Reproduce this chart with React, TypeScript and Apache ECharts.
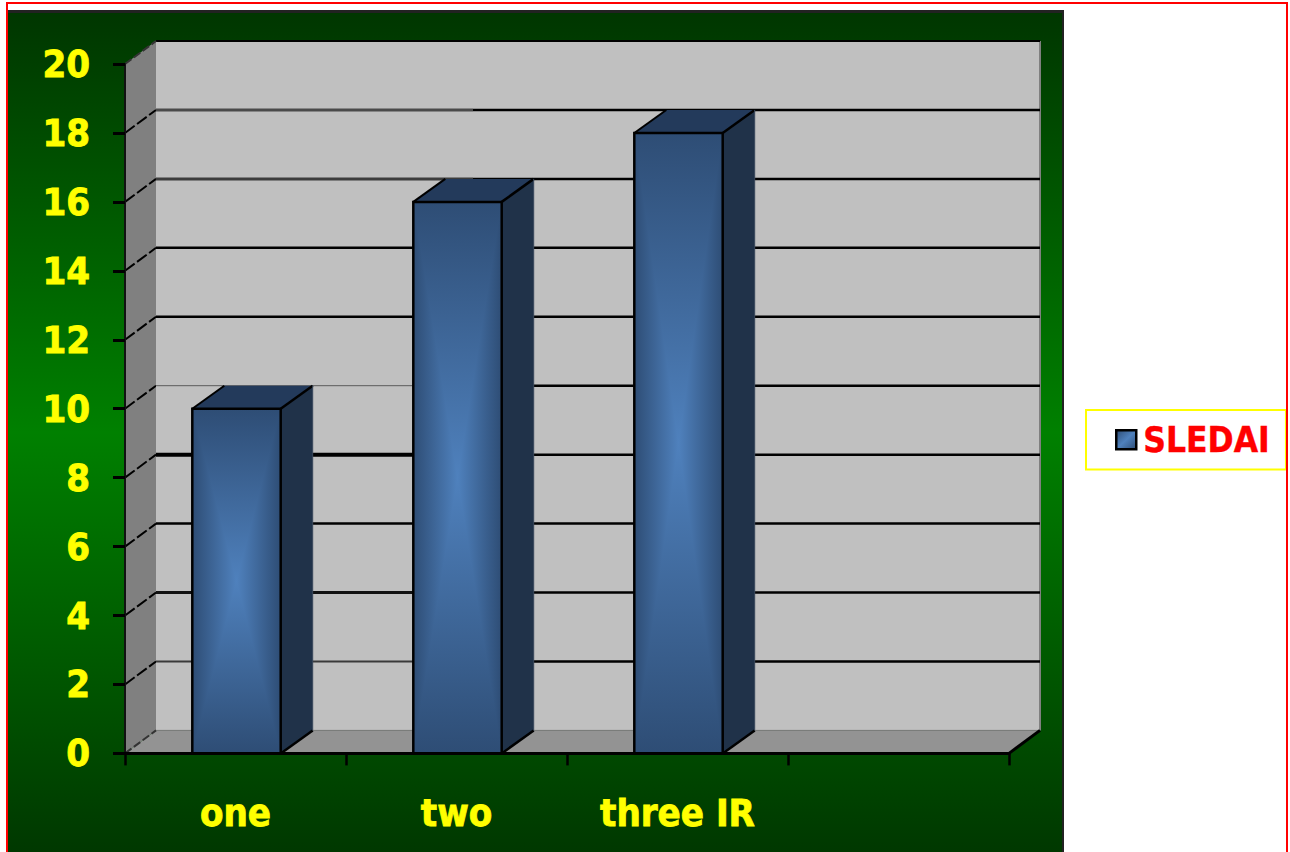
import React, { useEffect, useRef } from "react";
import * as echarts from "echarts";

const categories = ["one", "two", "three IR", ""];
const sledaiValues = [10, 16, 18];
const yMax = 20;
const yStep = 2;
const gridValues = [2, 4, 6, 8, 10, 12, 14, 16, 18];

const FONT = '"DejaVu Sans Condensed", "DejaVu Sans", Tahoma, sans-serif';
const DEPTH_X = 31;
const DEPTH_Y = 23;
const BAR_DEPTH_X = 32;
const BAR_RATIO = 0.4;
const BAR_SHIFT = 1;

// Heavier or lighter strokes on the left run of some wall lines, up to `span` px past the wall corner.
const wallLineRuns: Record<number, { color: string; width: number; span: number }> = {
  18: { color: "#4a4a4a", width: 3, span: 317 },
  16: { color: "#3c3c3c", width: 3, span: 317 },
  10: { color: "#5a5a5a", width: 1, span: 258 },
  8: { color: "#000000", width: 4, span: 258 },
  4: { color: "#111111", width: 3, span: 258 },
  2: { color: "#3a3a3a", width: 2, span: 258 },
};

const grad = (x2: number, y2: number, stops: [number, string][]) =>
  new echarts.graphic.LinearGradient(0, 0, x2, y2, stops.map(([offset, color]) => ({ offset, color })));

const EDGE = "#2e4d75";
const CENTRE = "#4f81bd";

// Back wall, side wall and floor of the box.
function renderWalls(params: any, api: any) {
  const cs = params.coordSys;
  const left = cs.x;
  const right = cs.x + cs.width;
  const y0 = api.coord([0, 0])[1];
  const yTop = api.coord([0, yMax])[1];
  const backLeft = left + DEPTH_X;
  const backRight = right + DEPTH_X;
  const backBottom = y0 - DEPTH_Y;
  const backTop = yTop - DEPTH_Y;
  return {
    type: "group",
    children: [
      { type: "polygon", shape: { points: [[backLeft, backTop], [backRight, backTop], [backRight, backBottom], [backLeft, backBottom]] }, style: { fill: "#c0c0c0" } },
      { type: "polygon", shape: { points: [[left, y0], [backLeft, backBottom], [backLeft, backTop], [left, yTop]] }, style: { fill: "#808080" } },
      { type: "polygon", shape: { points: [[left, y0], [right, y0], [backRight, backBottom], [backLeft, backBottom]] }, style: { fill: "#939393" } },
      { type: "line", shape: { x1: backLeft, y1: backBottom, x2: backRight, y2: backBottom }, style: { stroke: "#7a7a7a", lineWidth: 1 } },
      { type: "line", shape: { x1: backRight, y1: backTop, x2: backRight, y2: backBottom }, style: { stroke: "#808080", lineWidth: 2 } },
      { type: "line", shape: { x1: backLeft, y1: backTop, x2: backRight, y2: backTop }, style: { stroke: "#000", lineWidth: 2 } },
      { type: "line", shape: { x1: right, y1: y0, x2: backRight, y2: backBottom }, style: { stroke: "#000", lineWidth: 3 } },
      { type: "line", shape: { x1: left, y1: yTop, x2: backLeft, y2: backTop }, style: { stroke: "#333", lineWidth: 2, lineDash: [8, 3] } },
      { type: "line", shape: { x1: left, y1: y0, x2: backLeft, y2: backBottom }, style: { stroke: "#333", lineWidth: 2, lineDash: [8, 3] } },
    ],
  };
}

// One horizontal wall line and its slanted continuation on the side wall.
function renderGridLine(params: any, api: any) {
  const cs = params.coordSys;
  const left = cs.x;
  const right = cs.x + cs.width;
  const v = api.value(0);
  const y = api.coord([0, v])[1];
  const run = wallLineRuns[v];
  const children: any[] = [
    { type: "line", shape: { x1: left + DEPTH_X, y1: y - DEPTH_Y, x2: right + DEPTH_X, y2: y - DEPTH_Y }, style: { stroke: "#000", lineWidth: 2.5 } },
    { type: "line", shape: { x1: left, y1: y, x2: left + DEPTH_X, y2: y - DEPTH_Y }, style: { stroke: "#000", lineWidth: 2, lineDash: [12, 3] } },
  ];
  if (run) {
    children.push({
      type: "rect",
      shape: { x: left + DEPTH_X, y: y - DEPTH_Y - 2, width: run.span, height: 4 },
      style: { fill: "#c0c0c0" },
    });
    children.push({
      type: "line",
      shape: { x1: left + DEPTH_X, y1: y - DEPTH_Y, x2: left + DEPTH_X + run.span, y2: y - DEPTH_Y },
      style: { stroke: run.color, lineWidth: run.width },
    });
  }
  return { type: "group", children };
}

// A box bar: the front face shades from its rim towards a bright centre.
function renderBar(_params: any, api: any) {
  const [bandCentre, yTop] = api.coord([api.value(0), api.value(1)]);
  const y0 = api.coord([api.value(0), 0])[1];
  const w = api.size([1, 0])[0] * BAR_RATIO;
  const cx = bandCentre + BAR_SHIFT;
  const x0 = cx - w / 2;
  const x1 = cx + w / 2;
  const cy = (yTop + y0) / 2;
  const dx = BAR_DEPTH_X;
  const dy = DEPTH_Y;
  const vertical = grad(0, 1, [[0, EDGE], [0.5, CENTRE], [1, EDGE]]);
  const fromLeft = grad(1, 0, [[0, EDGE], [1, CENTRE]]);
  const fromRight = grad(1, 0, [[0, CENTRE], [1, EDGE]]);
  return {
    type: "group",
    children: [
      { type: "polygon", shape: { points: [[x0, yTop], [x1, yTop], [x1 + dx, yTop - dy], [x0 + dx, yTop - dy]] }, style: { fill: "#233a5b" } },
      { type: "polygon", shape: { points: [[x1, yTop], [x1 + dx, yTop - dy], [x1 + dx, y0 - dy], [x1, y0]] }, style: { fill: "#203249" } },
      { type: "rect", shape: { x: x0, y: yTop, width: w, height: y0 - yTop }, style: { fill: vertical } },
      { type: "polygon", shape: { points: [[x0, yTop], [cx, cy], [x0, y0]] }, style: { fill: fromLeft } },
      { type: "polygon", shape: { points: [[x1, yTop], [cx, cy], [x1, y0]] }, style: { fill: fromRight } },
      { type: "rect", shape: { x: x0, y: yTop, width: w, height: y0 - yTop }, style: { fill: "none", stroke: "#000", lineWidth: 2.5 } },
      { type: "line", shape: { x1: x0, y1: yTop, x2: x0 + dx, y2: yTop - dy }, style: { stroke: "#000", lineWidth: 2 } },
      { type: "line", shape: { x1: x1, y1: yTop, x2: x1 + dx, y2: yTop - dy }, style: { stroke: "#000", lineWidth: 2.5 } },
      { type: "line", shape: { x1: x1, y1: y0, x2: x1 + dx, y2: y0 - dy }, style: { stroke: "#000", lineWidth: 2.5 } },
      { type: "line", shape: { x1: x1 + dx, y1: yTop - dy, x2: x1 + dx, y2: y0 - dy }, style: { stroke: "#39485c", lineWidth: 1 } },
    ],
  };
}

const labelStyle = {
  color: "#ffff00",
  fontFamily: FONT,
  fontWeight: "bold",
  fontSize: 38,
  textBorderColor: "#ffff00",
  textBorderWidth: 0.8,
};

export default function App() {
  const ref = useRef<HTMLDivElement>(null);

  useEffect(() => {
    document.body.style.margin = "0";
    const chart = echarts.init(ref.current!, undefined, { renderer: "svg" });
    chart.setOption({
      animation: false,
      backgroundColor: "#ffffff",
      graphic: [
        {
          type: "rect",
          z: -2,
          silent: true,
          shape: { x: 8, y: 10, width: 1056, height: 842 },
          style: { fill: "#222222" },
        },
        {
          type: "rect",
          z: -1,
          silent: true,
          shape: { x: 8, y: 13, width: 1054, height: 839 },
          style: {
            fill: grad(0, 1, [[0, "#003600"], [0.5, "#008000"], [1, "#003800"]]),
          },
        },
        {
          type: "rect",
          z: 100,
          silent: true,
          shape: { x: 7, y: 3, width: 1280, height: 860 },
          style: { fill: "none", stroke: "#ff0000", lineWidth: 2 },
        },
      ],
      grid: { left: 125, right: 281, top: 64, bottom: 98.6, containLabel: false },
      legend: {
        show: true,
        data: [
          {
            name: "SLEDAI",
            icon: "rect",
            itemStyle: {
              color: grad(1, 1, [[0, EDGE], [0.5, CENTRE], [1, EDGE]]),
              borderColor: "#000",
              borderWidth: 2.5,
            },
          },
        ],
        left: 1086,
        top: 410,
        orient: "horizontal",
        padding: [12, 16, 12, 29],
        itemWidth: 20,
        itemHeight: 19,
        borderColor: "#ffff00",
        borderWidth: 2,
        backgroundColor: "#ffffff",
        selectedMode: false,
        textStyle: {
          color: "#ff0000",
          fontFamily: FONT,
          fontWeight: "bold",
          fontSize: 35,
          padding: [0, 0, 0, 2],
          textBorderColor: "#ff0000",
          textBorderWidth: 0.4,
        },
      },
      xAxis: {
        type: "category",
        data: categories,
        z: 6,
        axisLine: { lineStyle: { color: "#000", width: 3 } },
        axisTick: { show: true, length: 12, lineStyle: { color: "#000", width: 2.5 } },
        axisLabel: { ...labelStyle, margin: 41, interval: 0 },
      },
      yAxis: {
        type: "value",
        min: 0,
        max: yMax,
        interval: yStep,
        z: 6,
        splitLine: { show: false },
        axisLine: { show: true, lineStyle: { color: "#111", width: 2 } },
        axisTick: { show: true, length: 12, lineStyle: { color: "#000", width: 3 } },
        axisLabel: { ...labelStyle, margin: 35, padding: [8, 0, 0, 0] },
      },
      series: [
        { type: "custom", name: "walls", z: 1, silent: true, renderItem: renderWalls, data: [[0]], encode: { x: -1, y: -1 } },
        { type: "custom", name: "wall lines", z: 2, silent: true, renderItem: renderGridLine, data: gridValues.map((v) => [v]), encode: { x: -1, y: 0 } },
        {
          type: "custom",
          name: "SLEDAI",
          z: 4,
          silent: true,
          renderItem: renderBar,
          data: sledaiValues.map((v, i) => [i, v]),
          encode: { x: 0, y: 1 },
          itemStyle: { color: CENTRE },
        },
      ],
    });
    return () => chart.dispose();
  }, []);

  return <div ref={ref} style={{ position: "fixed", left: 0, top: 0, width: 1290, height: 852 }} />;
}
